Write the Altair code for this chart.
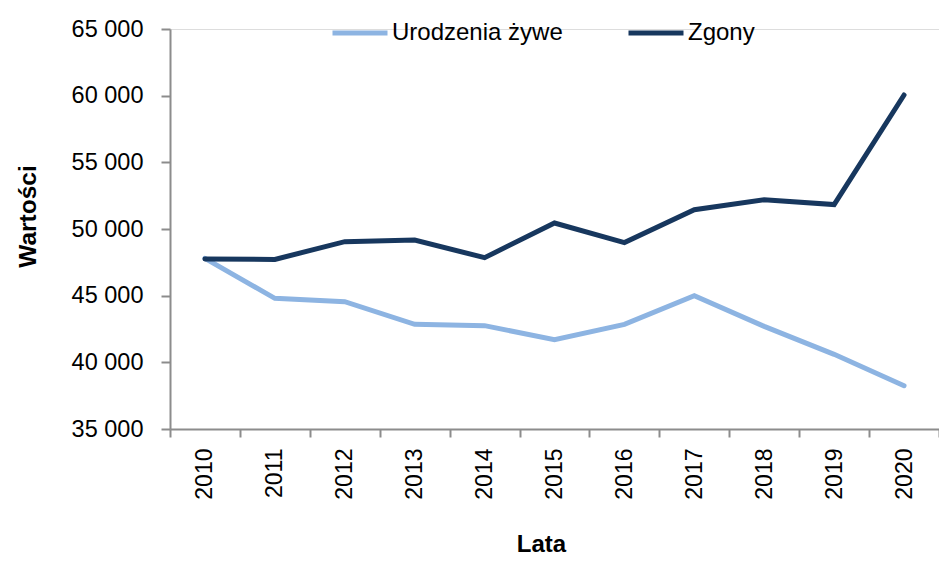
import altair as alt
import pandas as pd

years = ["2010", "2011", "2012", "2013", "2014", "2015", "2016", "2017", "2018", "2019", "2020"]
births = [47800, 44800, 44550, 42850, 42750, 41700, 42850, 45000, 42700, 40600, 38250]
deaths = [47750, 47720, 49050, 49170, 47850, 50450, 48980, 51450, 52200, 51830, 60050]
series = ["Urodzenia żywe", "Zgony"]
colors = ["#8DB4E2", "#17375E"]

rows = []
for y, b in zip(years, births):
    rows.append({"Rok": y, "Seria": series[0], "Wartość": b, "o": 0})
for y, d in zip(years, deaths):
    rows.append({"Rok": y, "Seria": series[1], "Wartość": d, "o": 1})
df = pd.DataFrame(rows)

FONT = "Liberation Sans, Arial"

chart = alt.Chart(df).mark_line(strokeWidth=5, strokeCap="round", strokeJoin="miter").encode(
    x=alt.X("Rok:O", title="Lata",
            scale=alt.Scale(paddingInner=0, paddingOuter=0),
            axis=alt.Axis(labelAngle=270, labelFontSize=23, labelFont=FONT, labelColor="#000",
                          labelPadding=11, tickSize=8, tickBand="extent",
                          domainColor="#8c8c8c", tickColor="#8c8c8c", domainWidth=2, tickWidth=2,
                          titleFont=FONT, titleFontSize=24, titleFontWeight="bold", titleColor="#000",
                          titleX=371, titleY=115, titleAlign="center", titleBaseline="middle")),
    y=alt.Y("Wartość:Q", title="Wartości",
            scale=alt.Scale(domain=[35000, 65000], nice=False, zero=False),
            axis=alt.Axis(values=[35000, 40000, 45000, 50000, 55000, 60000, 65000],
                          labelExpr="replace(format(datum.value, ','), ',', ' ')",
                          labelFontSize=23.5, labelFont=FONT, labelColor="#000",
                          labelPadding=18, tickSize=9, grid=False,
                          domainColor="#8c8c8c", tickColor="#8c8c8c", domainWidth=2, tickWidth=2,
                          titleFont=FONT, titleFontSize=24.5, titleFontWeight="bold", titleColor="#000",
                          titleX=-142, titleY=187, titleAngle=270, titleAlign="center",
                          titleBaseline="middle")),
    color=alt.Color("Seria:N", scale=alt.Scale(domain=series, range=colors),
                    legend=alt.Legend(title=None, orient="none", legendX=160, legendY=-26,
                                      direction="horizontal", columns=2, columnPadding=55,
                                      padding=0,
                                      symbolType="stroke", symbolSize=3025, symbolStrokeWidth=5,
                                      labelFont=FONT, labelFontSize=24, labelColor="#000",
                                      labelOffset=2, labelLimit=400)),
    order=alt.Order("o:Q"),
).properties(
    width=769, height=400,
    autosize=alt.AutoSizeParams(type="none"),
    padding={"left": 162, "top": 21, "right": 0, "bottom": 128},
).configure_view(stroke=None).configure(background="white")

chart.save("out.html", embed_options={"renderer": "svg", "actions": False})
